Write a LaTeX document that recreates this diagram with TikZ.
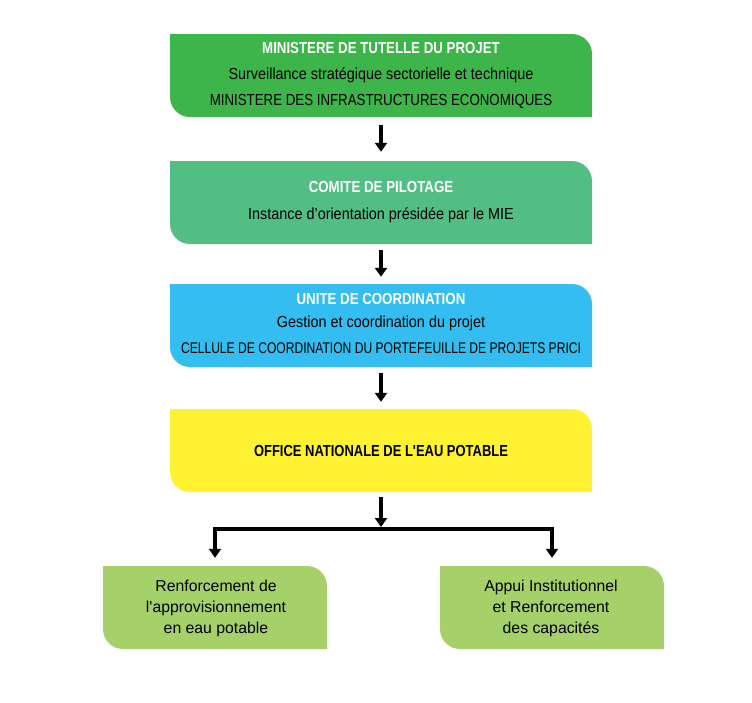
\documentclass[tikz,border=0pt]{standalone}
\usepackage{fontspec}
\setmainfont{Liberation Sans}
\newfontfamily\fCaps[FakeStretch=0.83]{Liberation Sans}
\newfontfamily\fLow[FakeStretch=0.90]{Liberation Sans}
\newfontfamily\fCell[FakeStretch=0.78]{Liberation Sans}
\newfontfamily\fOff[FakeStretch=0.81]{Liberation Sans}
\newfontfamily\fBot{Liberation Sans}
\usetikzlibrary{arrows.meta}
\definecolor{cA}{RGB}{61,181,74}
\definecolor{cB}{RGB}{82,190,132}
\definecolor{cC}{RGB}{51,189,240}
\definecolor{cD}{RGB}{255,242,51}
\definecolor{cE}{RGB}{165,208,106}
\tikzset{
  box/.style={minimum width=422pt, minimum height=83pt, inner sep=0pt,
    path picture={\fill[#1] (path picture bounding box.north west)
      -- ([xshift=-20pt]path picture bounding box.north east)
      arc[start angle=90,end angle=0,radius=20pt]
      -- (path picture bounding box.south east)
      -- ([xshift=20pt]path picture bounding box.south west)
      arc[start angle=270,end angle=180,radius=20pt] -- cycle;}},
  sbox/.style={box=#1, minimum width=224pt},
  txt/.style={anchor=base, inner sep=0pt, text=black},
  ttl/.style={txt, text=white, font=\fCaps\bfseries\fontsize{16pt}{18pt}\selectfont},
  caps/.style={txt, font=\fCaps\fontsize{16pt}{18pt}\selectfont},
  low/.style={txt, font=\fLow\fontsize{16pt}{18pt}\selectfont},
  cell/.style={txt, font=\fCell\fontsize{15.5pt}{18pt}\selectfont},
  off/.style={txt, font=\fOff\bfseries\fontsize{16pt}{18pt}\selectfont},
  bot/.style={txt, font=\fBot\fontsize{15.8pt}{18pt}\selectfont},
  arr/.style={line width=3.5pt, -{Triangle[width=12pt,length=9pt]}}
}
\begin{document}
\begin{tikzpicture}
\useasboundingbox (0,0) rectangle (752pt,-702pt);
\node[box=cA] (b1) at (381pt,-75.5pt) {};
\node[box=cB] (b2) at (381pt,-202.5pt) {};
\node[box=cC] (b3) at (381pt,-325.5pt) {};
\node[box=cD] (b4) at (381pt,-450.5pt) {};
\node[sbox=cE] (bl) at (215pt,-607.5pt) {};
\node[sbox=cE] (br) at (552pt,-607.5pt) {};
\node[ttl] (t1a) at (381pt,-53pt) {MINISTERE DE TUTELLE DU PROJET};
\node[low] (t1b) at (381pt,-79pt) {Surveillance stratégique sectorielle et technique};
\node[caps] (t1c) at (381pt,-105pt) {MINISTERE DES INFRASTRUCTURES ECONOMIQUES};
\node[ttl] (t2a) at (381pt,-192pt) {COMITE DE PILOTAGE};
\node[low] (t2b) at (381pt,-219pt) {Instance d’orientation présidée par le MIE};
\node[ttl] (t3a) at (381pt,-304.5pt) {UNITE DE COORDINATION};
\node[low] (t3b) at (381pt,-327.5pt) {Gestion et coordination du projet};
\node[cell] (t3c) at (381pt,-353pt) {CELLULE DE COORDINATION DU PORTEFEUILLE DE PROJETS PRICI};
\node[off] (t4a) at (381pt,-456pt) {OFFICE NATIONALE DE L'EAU POTABLE};
\node[bot] (tla) at (216pt,-591pt) {Renforcement de};
\node[bot] (tlb) at (216pt,-612pt) {l'approvisionnement};
\node[bot] (tlc) at (216pt,-633pt) {en eau potable};
\node[bot] (tra) at (551pt,-591pt) {Appui Institutionnel};
\node[bot] (trb) at (551pt,-612pt) {et Renforcement};
\node[bot] (trc) at (551pt,-633pt) {des capacités};
\coordinate (j) at (381pt,-529pt);
\draw[arr, shorten <=8pt, shorten >=9pt] (b1.south) -- (b2.north);
\draw[arr, shorten <=6pt, shorten >=7pt] (b2.south) -- (b3.north);
\draw[arr, shorten <=6pt, shorten >=7pt] (b3.south) -- (b4.north);
\draw[arr, shorten <=5pt, shorten >=2pt] (b4.south) -- (j);
\draw[arr, shorten >=8pt] (j) -| (bl.north);
\draw[arr, shorten >=8pt] (j) -| (br.north);
\end{tikzpicture}
\end{document}
